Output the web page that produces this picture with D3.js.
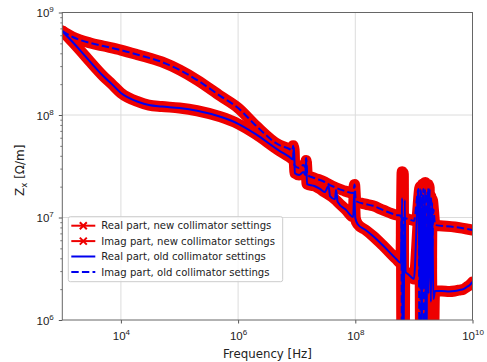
<!DOCTYPE html>
<html>
<head>
<meta charset="utf-8">
<script src="https://cdn.jsdelivr.net/npm/d3@7"></script>
<style>
body { margin: 0; background: #fff; }
svg { display: block; font-family: 'DejaVu Sans', sans-serif; }
</style>
</head>
<body>
<div class="canvas"></div>
<script>
// [frequency (Hz), Z_x (Ohm/m)]
const oldReal = [
    [1e3, 6.6e8], [1.5e3, 5.15e8], [2e3, 4.3e8], [3e3, 3.3e8], [5e3, 2.4e8], [7e3, 2.0e8],
    [1e4, 1.64e8], [2e4, 1.34e8], [3e4, 1.25e8], [5e4, 1.21e8], [1e5, 1.17e8], [2e5, 1.1e8],
    [5e5, 9.6e7], [1e6, 8.2e7], [2e6, 6.5e7], [5e6, 4.5e7], [7.5e6, 3.9e7], [8.6e6, 3.7e7],
    [9e6, 4.8e7], [9.3e6, 2.7e7], [1.1e7, 2.6e7], [1.3e7, 2.78e7], [1.4e7, 2.6e7],
    [1.45e7, 3.64e7], [1.5e7, 2.12e7], [2e7, 2.03e7], [2.5e7, 1.9e7], [3e7, 1.77e7],
    [3.5e7, 2.03e7], [3.7e7, 1.62e7], [4.5e7, 1.51e7], [4.7e7, 1.85e7], [5e7, 1.42e7],
    [7e7, 1.18e7], [9.2e7, 1.01e7], [9.6e7, 1.77e7], [1.0e8, 9.9e6], [1.1e8, 8.6e6],
    [1.5e8, 7.55e6], [2e8, 6.6e6], [3e8, 5.3e6], [5e8, 3.94e6], [6e8, 3.6e6],
    [6.3e8, 1.55e7], [6.5e8, 1e5], [6.8e8, 3.07e6], [7e8, 1.48e7], [7.2e8, 2.94e6],
    [8e8, 2.8e6], [1e9, 2.51e6],
    [1.2e9, 1.9e7], [1.25e9, 2.3e6], [1.3e9, 1.9e7], [1.36e9, 5e5], [1.42e9, 1.7e7],
    [1.48e9, 2.0e6], [1.55e9, 1.9e7], [1.62e9, 1e5], [1.7e9, 1.8e7], [1.78e9, 1.8e6],
    [1.86e9, 1.9e7], [1.95e9, 1.5e6], [2.05e9, 1.4e7], [2.15e9, 1.6e6],
    [2.3e9, 1.92e6], [3e9, 1.92e6], [4e9, 1.9e6], [5e9, 1.92e6], [6e9, 1.96e6],
    [7e9, 2.0e6], [8e9, 2.1e6], [9e9, 2.2e6], [1e10, 2.35e6]
];

const oldImag = [
    [1e3, 6.6e8], [1.5e3, 5.77e8], [2e3, 5.4e8], [3e3, 5.04e8], [5e3, 4.71e8], [1e4, 4.3e8],
    [2e4, 3.85e8], [5e4, 3.29e8], [1e5, 2.75e8], [2e5, 2.19e8], [5e5, 1.53e8], [1e6, 1.17e8],
    [2e6, 7.9e7], [5e6, 5.1e7], [7.5e6, 4.66e7], [8.4e6, 4.5e7], [8.7e6, 5.0e7],
    [9.1e6, 3.25e7], [1.1e7, 3.04e7], [1.3e7, 3.25e7], [1.4e7, 3.1e7], [1.45e7, 3.8e7],
    [1.52e7, 2.6e7], [2e7, 2.43e7], [3e7, 2.22e7], [4e7, 2.03e7], [6e7, 1.85e7],
    [9.2e7, 1.73e7], [9.7e7, 2.1e7], [1.02e8, 1.45e7], [1.5e8, 1.35e7], [2e8, 1.3e7],
    [3e8, 1.18e7], [5e8, 1.06e7], [6.1e8, 1.04e7], [6.3e8, 1e5], [6.6e8, 9.9e6],
    [8e8, 9.67e6], [1e9, 9.25e6],
    [1.2e9, 1.9e7], [1.26e9, 1e5], [1.32e9, 1.8e7], [1.38e9, 8e6], [1.45e9, 1.9e7],
    [1.52e9, 1e5], [1.6e9, 1.7e7], [1.68e9, 6e6], [1.76e9, 1.9e7], [1.85e9, 3e6],
    [1.95e9, 1.6e7], [2.05e9, 5e6], [2.15e9, 1.2e7],
    [2.3e9, 8.45e6], [5e9, 8.07e6], [1e10, 7.55e6]
];

const newReal = [
    [1e3, 6.6e8], [1.5e3, 5.15e8], [2e3, 4.3e8], [3e3, 3.3e8], [5e3, 2.4e8], [7e3, 2.0e8],
    [1e4, 1.64e8], [2e4, 1.34e8], [3e4, 1.25e8], [5e4, 1.21e8], [1e5, 1.17e8], [2e5, 1.1e8],
    [5e5, 9.6e7], [1e6, 8.2e7], [2e6, 6.5e7], [5e6, 4.5e7], [7.5e6, 3.9e7], [8.6e6, 3.7e7],
    [9e6, 4.7e7], [9.3e6, 2.7e7], [1.1e7, 2.6e7], [1.3e7, 2.78e7], [1.4e7, 2.6e7],
    [1.45e7, 3.4e7], [1.5e7, 2.12e7], [2e7, 2.03e7], [3e7, 1.77e7], [4.5e7, 1.51e7],
    [5e7, 1.42e7], [7e7, 1.18e7], [9.2e7, 1.01e7], [9.6e7, 1.7e7], [1.0e8, 9.9e6],
    [1.1e8, 8.6e6], [1.5e8, 7.55e6], [2e8, 6.6e6], [3e8, 5.3e6], [5e8, 3.94e6], [6e8, 3.6e6],
    [6.3e8, 2.8e7], [6.45e8, 1e5], [6.6e8, 2.7e7], [6.75e8, 1e5], [7e8, 3.0e6],
    [8e8, 2.8e6], [1e9, 2.51e6],
    [1.26e9, 1.2e7], [1.32e9, 1e5], [1.4e9, 2.1e7], [1.48e9, 1e5], [1.56e9, 2.2e7],
    [1.65e9, 1e5], [1.75e9, 2.1e7], [1.85e9, 1e5], [1.95e9, 1.6e7], [2.1e9, 1e5],
    [2.25e9, 1.92e6], [3e9, 1.92e6], [4e9, 1.9e6], [5e9, 1.92e6], [6e9, 1.96e6],
    [7e9, 2.0e6], [8e9, 2.1e6], [9e9, 2.2e6], [1e10, 2.35e6]
];

const newImag = [
    [1e3, 6.6e8], [1.5e3, 5.77e8], [2e3, 5.4e8], [3e3, 5.04e8], [5e3, 4.71e8], [1e4, 4.3e8],
    [2e4, 3.85e8], [5e4, 3.29e8], [1e5, 2.75e8], [2e5, 2.19e8], [5e5, 1.53e8], [1e6, 1.17e8],
    [2e6, 7.9e7], [5e6, 5.1e7], [7.5e6, 4.66e7], [8.4e6, 4.5e7], [8.7e6, 5.0e7],
    [9.1e6, 3.25e7], [1.1e7, 3.04e7], [1.3e7, 3.25e7], [1.4e7, 3.1e7], [1.45e7, 3.6e7],
    [1.52e7, 2.6e7], [2e7, 2.43e7], [3e7, 2.22e7], [4e7, 2.03e7], [6e7, 1.85e7],
    [9.2e7, 1.73e7], [9.7e7, 2.1e7], [1.02e8, 1.45e7], [1.5e8, 1.35e7], [2e8, 1.3e7],
    [3e8, 1.18e7], [5e8, 1.06e7], [6.1e8, 1.04e7], [6.3e8, 1e5], [6.6e8, 9.9e6],
    [8e8, 9.67e6], [1.1e9, 9.25e6],
    [1.28e9, 2.0e7], [1.35e9, 1e5], [1.43e9, 2.1e7], [1.52e9, 1e5], [1.62e9, 2.1e7],
    [1.72e9, 1e5], [1.82e9, 2.0e7], [1.92e9, 1e5], [2.05e9, 1.5e7],
    [2.3e9, 8.45e6], [5e9, 8.07e6], [1e10, 7.55e6]
];

const xTicks = [1e4, 1e6, 1e8, 1e10];
const xTickExp = ['4', '6', '8', '10'];
const yTicks = [1e6, 1e7, 1e8, 1e9];
const yTickExp = ['6', '7', '8', '9'];
const legendLabels = [
    'Real part, new collimator settings',
    'Imag part, new collimator settings',
    'Real part, old collimator settings',
    'Imag part, old collimator settings'
];

const dims = {width: 487, height: 362};
const plot = {left: 62.3, top: 12.5, right: 472.5, bottom: 320};

const svg = d3.select('.canvas')
    .append('svg')
    .attr('width', dims.width)
    .attr('height', dims.height);

const x = d3.scaleLog().domain([1e3, 1e10]).range([plot.left, plot.right]);
const y = d3.scaleLog().domain([1e6, 1e9]).range([plot.bottom, plot.top]);

svg.append('clipPath')
    .attr('id', 'clip')
    .append('rect')
    .attr('x', plot.left)
    .attr('y', plot.top)
    .attr('width', plot.right - plot.left)
    .attr('height', plot.bottom - plot.top);

// grid
const grid = svg.append('g');
grid.selectAll('.vgrid')
    .data([1e4, 1e6, 1e8])
    .enter().append('line')
    .attr('x1', d => x(d)).attr('x2', d => x(d))
    .attr('y1', plot.top).attr('y2', plot.bottom)
    .attr('stroke', '#dcdcdc').attr('stroke-width', 1);
grid.selectAll('.hgrid')
    .data([1e7, 1e8])
    .enter().append('line')
    .attr('y1', d => y(d)).attr('y2', d => y(d))
    .attr('x1', plot.left).attr('x2', plot.right)
    .attr('stroke', '#dcdcdc').attr('stroke-width', 1);

const line = d3.line()
    .x(d => x(d[0]))
    .y(d => y(d[1]))
    .curve(d3.curveMonotoneX);

const curves = svg.append('g').attr('clip-path', 'url(#clip)');

const red = '#ee0000';
const blue = '#0000ee';

[newReal, newImag].forEach(series => {
    curves.append('path')
        .attr('d', line(series))
        .attr('fill', 'none')
        .attr('stroke', red)
        .attr('stroke-width', 11)
        .attr('stroke-linejoin', 'round')
        .attr('stroke-linecap', 'round');
});

curves.append('path')
    .attr('d', line(oldReal))
    .attr('fill', 'none')
    .attr('stroke', blue)
    .attr('stroke-width', 2)
    .attr('stroke-linejoin', 'round');

curves.append('path')
    .attr('d', line(oldImag))
    .attr('fill', 'none')
    .attr('stroke', blue)
    .attr('stroke-width', 2)
    .attr('stroke-dasharray', '7.4,3.2');

// axes
const xAxis = svg.append('g')
    .attr('transform', `translate(0, ${plot.bottom})`)
    .call(d3.axisBottom(x).tickValues(xTicks).tickSize(3.5).tickFormat(''));

xAxis.selectAll('.tick line').attr('stroke', '#555');
xAxis.selectAll('.tick').each(function(d, i) {
    const t = d3.select(this).append('text')
        .attr('y', 19.5)
        .attr('fill', '#222')
        .attr('text-anchor', 'middle')
        .attr('font-size', 11.5);
    t.append('tspan').text('10');
    t.append('tspan').attr('dy', -5).attr('font-size', 8).text(xTickExp[i]);
});

const yAxis = svg.append('g')
    .attr('transform', `translate(${plot.left}, 0)`)
    .call(d3.axisLeft(y).tickValues(yTicks).tickSize(3.5).tickFormat(''));

yAxis.selectAll('.tick line').attr('stroke', '#555');
yAxis.selectAll('.tick').each(function(d, i) {
    const t = d3.select(this).append('text')
        .attr('x', -8.5)
        .attr('y', 4)
        .attr('fill', '#222')
        .attr('text-anchor', 'end')
        .attr('font-size', 11.5);
    t.append('tspan').text('10');
    t.append('tspan').attr('dy', -5).attr('font-size', 8).text(yTickExp[i]);
});

const minorTicks = [];
[1e6, 1e7, 1e8].forEach(dec => {
    for (let m = 2; m < 10; m++) minorTicks.push(dec * m);
});

const yMinor = svg.append('g')
    .attr('transform', `translate(${plot.left}, 0)`)
    .call(d3.axisLeft(y).tickValues(minorTicks).tickSize(2).tickFormat(''));
yMinor.selectAll('.tick line').attr('stroke', '#777');

[xAxis, yAxis, yMinor].forEach(a => a.select('.domain').remove());

// frame
svg.append('rect')
    .attr('x', plot.left)
    .attr('y', plot.top)
    .attr('width', plot.right - plot.left)
    .attr('height', plot.bottom - plot.top)
    .attr('fill', 'none')
    .attr('stroke', '#666')
    .attr('stroke-width', 1);

// axis labels
svg.append('text')
    .attr('x', (plot.left + plot.right) / 2)
    .attr('y', 358)
    .attr('text-anchor', 'middle')
    .attr('font-size', 11.8)
    .attr('fill', '#222')
    .text('Frequency [Hz]');

const yLabel = svg.append('text')
    .attr('transform', `translate(24, ${(plot.top + plot.bottom) / 2 + 4}) rotate(-90)`)
    .attr('text-anchor', 'middle')
    .attr('font-size', 12)
    .attr('fill', '#222');
yLabel.append('tspan').text('Z');
yLabel.append('tspan').attr('dy', 2.5).attr('font-size', 8.5).text('x');
yLabel.append('tspan').attr('dy', -2.5).text(' [Ω/m]');

// legend
const legend = svg.append('g').attr('transform', 'translate(68.3, 216.7)');

legend.append('rect')
    .attr('width', 214.4)
    .attr('height', 65)
    .attr('rx', 2)
    .attr('fill', 'white')
    .attr('fill-opacity', 0.8)
    .attr('stroke', '#cccccc')
    .attr('stroke-width', 1);

const legendStyles = [
    {color: red, dash: null, marker: true},
    {color: red, dash: null, marker: true},
    {color: blue, dash: null, marker: false},
    {color: blue, dash: '7.4,3.2', marker: false}
];

const items = legend.selectAll('.item')
    .data(legendLabels)
    .enter().append('g')
    .attr('class', 'item')
    .attr('transform', (d, i) => `translate(0, ${9 + i * 15.4})`);

items.append('line')
    .attr('x1', 3).attr('x2', 27)
    .attr('stroke', (d, i) => legendStyles[i].color)
    .attr('stroke-width', 2)
    .attr('stroke-dasharray', (d, i) => legendStyles[i].dash);

items.filter((d, i) => legendStyles[i].marker)
    .append('path')
    .attr('d', 'M11.5,-3.5L18.5,3.5M11.5,3.5L18.5,-3.5')
    .attr('stroke', red)
    .attr('stroke-width', 2);

items.append('text')
    .attr('x', 33)
    .attr('y', 3.6)
    .attr('font-size', 10.1)
    .attr('fill', '#222')
    .text(d => d);
</script>
</body>
</html>
